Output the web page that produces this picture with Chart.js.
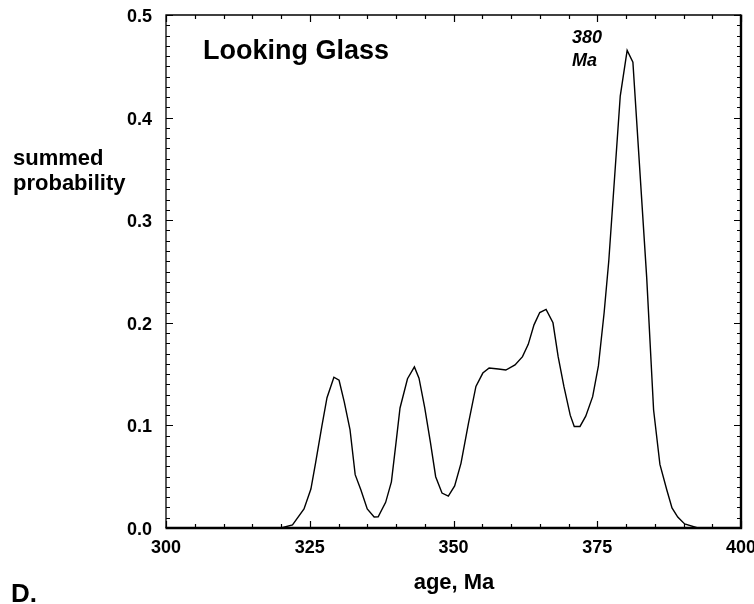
<!DOCTYPE html>
<html>
<head>
<meta charset="utf-8">
<script src="https://cdn.jsdelivr.net/npm/chart.js@4/dist/chart.umd.min.js"></script>
<style>
html,body{margin:0;padding:0;background:#fff;}
#wrap{position:relative;width:754px;height:604px;}
</style>
</head>
<body>
<div id="wrap"><canvas id="c" width="754" height="604"></canvas></div>
<script>
// Ages (Ma) and summed probability
const ages = [300, 320, 322, 324, 325.2, 326, 327.1, 328, 329.2, 330.1, 331, 332, 332.9, 333.9, 335, 336.2, 336.9, 338.2, 339.2, 340, 340.7, 342, 343.2, 344, 345, 346, 346.9, 348, 349.1, 350.2, 351.3, 352.6, 353.9, 355.1, 356.2, 357.8, 359.1, 360.7, 362, 363, 364, 365, 366.1, 367.3, 368.2, 369.2, 370.3, 371, 372, 373, 374.2, 375.2, 376.2, 377, 379, 380.2, 381.2, 383.6, 384.8, 385.9, 387.1, 388, 389, 390.2, 392.5, 400];
const probs = [0, 0, 0.003, 0.0185, 0.038, 0.063, 0.099, 0.127, 0.147, 0.144, 0.123, 0.096, 0.052, 0.037, 0.0185, 0.0107, 0.011, 0.025, 0.045, 0.083, 0.117, 0.1455, 0.157, 0.146, 0.117, 0.083, 0.050, 0.034, 0.031, 0.041, 0.063, 0.102, 0.138, 0.151, 0.156, 0.155, 0.154, 0.159, 0.167, 0.179, 0.198, 0.210, 0.213, 0.200, 0.167, 0.138, 0.110, 0.099, 0.099, 0.109, 0.128, 0.158, 0.21, 0.26, 0.421, 0.4655, 0.454, 0.244, 0.115, 0.062, 0.037, 0.0195, 0.0107, 0.004, 0, 0];
const xTicks = [300, 325, 350, 375, 400];
const yTicks = [0.0, 0.1, 0.2, 0.3, 0.4, 0.5];
const xMinorStep = 5;
const yMinorStep = 0.01;
const chartTitle = "Looking Glass";
const peakLabel = ["380", "Ma"];
const yTitle = ["summed", "probability"];
const xTitle = "age, Ma";
const panelLabel = "D.";

const FONT = '"Liberation Sans", Arial, Helvetica, sans-serif';

const points = ages.map((a, i) => ({x: a, y: probs[i]}));

const framePlugin = {
  id: 'frame',
  afterDraw(chart) {
    const ctx = chart.ctx;
    const xs = chart.scales.x, ys = chart.scales.y;
    const a = chart.chartArea;
    ctx.save();
    ctx.strokeStyle = '#000';
    // ticks inward
    ctx.lineWidth = 1.2;
    ctx.beginPath();
    for (let v = xs.min; v <= xs.max + 1e-9; v += xMinorStep) {
      const px = Math.round(xs.getPixelForValue(v)) + 0.5;
      const major = xTicks.some(t => Math.abs(t - v) < 1e-6);
      const len = major ? 7 : 4;
      ctx.moveTo(px, a.bottom); ctx.lineTo(px, a.bottom - len);
      ctx.moveTo(px, a.top); ctx.lineTo(px, a.top + len);
    }
    for (let k = 0; k <= Math.round((ys.max - ys.min) / yMinorStep); k++) {
      const v = ys.min + k * yMinorStep;
      const py = Math.round(ys.getPixelForValue(v)) + 0.5;
      const major = yTicks.some(t => Math.abs(t - v) < 1e-6);
      const len = major ? 7 : 4;
      ctx.moveTo(a.left, py); ctx.lineTo(a.left + len, py);
      ctx.moveTo(a.right, py); ctx.lineTo(a.right - len, py);
    }
    ctx.stroke();
    // frame: thin left/top, thick bottom/right
    ctx.lineWidth = 1.3;
    ctx.beginPath();
    ctx.moveTo(a.left, a.bottom); ctx.lineTo(a.left, a.top); ctx.lineTo(a.right, a.top);
    ctx.stroke();
    ctx.lineWidth = 2.4;
    ctx.beginPath();
    ctx.moveTo(a.left - 0.5, a.bottom); ctx.lineTo(a.right, a.bottom); ctx.lineTo(a.right, a.top - 0.5);
    ctx.stroke();
    // texts
    ctx.fillStyle = '#000';
    ctx.textBaseline = 'alphabetic';
    ctx.textAlign = 'left';
    ctx.font = 'bold 27px ' + FONT;
    ctx.fillText(chartTitle, 203, 59);
    ctx.font = 'italic bold 18px ' + FONT;
    ctx.fillText(peakLabel[0], 572, 43);
    ctx.fillText(peakLabel[1], 572, 66);
    ctx.font = 'bold 22px ' + FONT;
    ctx.fillText(yTitle[0], 13, 165);
    ctx.fillText(yTitle[1], 13, 190);
    ctx.textAlign = 'center';
    ctx.fillText(xTitle, 454, 589);
    ctx.textAlign = 'left';
    ctx.font = 'bold 26px ' + FONT;
    ctx.fillText(panelLabel, 11, 602);
    ctx.restore();
  }
};

new Chart(document.getElementById('c'), {
  type: 'line',
  data: {
    datasets: [{
      data: points,
      borderColor: '#000',
      borderWidth: 1.4,
      pointRadius: 0,
      tension: 0,
      fill: false
    }]
  },
  options: {
    responsive: false,
    animation: false,
    events: [],
    layout: {padding: {left: 0, top: 15, right: 13, bottom: 0}},
    plugins: {legend: {display: false}, tooltip: {enabled: false}, title: {display: false}},
    scales: {
      x: {
        type: 'linear',
        min: 300, max: 400,
        afterFit(s) { s.height = 76; s.paddingLeft = 0; s.paddingRight = 0; },
        afterBuildTicks(s) { s.ticks = xTicks.map(v => ({value: v})); },
        grid: {display: false, drawTicks: false},
        border: {display: false},
        ticks: {
          color: '#000',
          font: {family: FONT, size: 18, weight: 'bold'},
          padding: 9,
          maxRotation: 0,
          autoSkip: false,
          callback: v => String(v)
        }
      },
      y: {
        type: 'linear',
        min: 0, max: 0.5,
        afterFit(s) { s.width = 166; s.paddingTop = 0; s.paddingBottom = 0; },
        afterBuildTicks(s) { s.ticks = yTicks.map(v => ({value: v})); },
        grid: {display: false, drawTicks: false},
        border: {display: false},
        ticks: {
          color: '#000',
          font: {family: FONT, size: 18, weight: 'bold'},
          padding: 14,
          labelOffset: 2,
          autoSkip: false,
          callback: v => Number(v).toFixed(1)
        }
      }
    }
  },
  plugins: [framePlugin]
});
</script>
</body>
</html>
